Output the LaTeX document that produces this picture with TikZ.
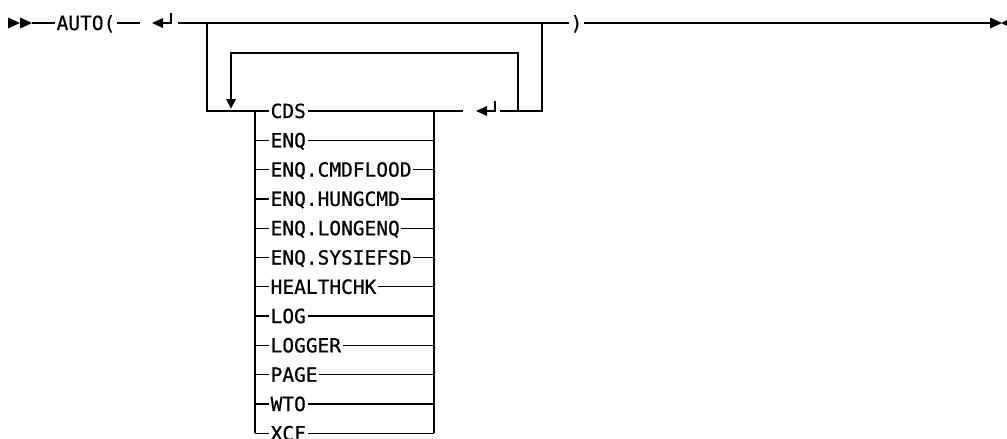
\documentclass[tikz,border=0pt]{standalone}
\usepackage{fontspec}
\newfontfamily\dfont[FakeStretch=1.0,FakeBold=0.6]{DejaVu Sans Mono}
\begin{document}
\begin{tikzpicture}[x=1pt,y=-1pt,line width=1.3pt,
  lbl/.style={font=\dfont\fontsize{19.5}{19.5}\selectfont,inner xsep=1pt,inner ysep=0pt,
              text height=14pt,text depth=0pt,anchor=west},
  retsym/.pic={\fill (0,0) -- (11,-5) -- (11,5) -- cycle;
               \draw (10,0) -- (19,0) -- (19,-10);}]
\useasboundingbox (0,0) rectangle (1007,439);
% start symbol
\fill (8,17.5) -- (20,23) -- (8,28.5) -- cycle;
\fill (20,17.5) -- (32,23) -- (20,28.5) -- cycle;
\coordinate (s0) at (32,23);
\node[lbl] (auto) at (55,23) {AUTO(};
\draw (s0) -- (auto.west);
\coordinate (a1) at (140,23);
\draw (auto.east) -- (a1);
\pic at (152,23) {retsym};
% main line
\coordinate (m1) at (178,23);
\coordinate (m2) at (207,23);
\coordinate (m3) at (542,23);
\node[lbl] (rp) at (569,23) {)};
\draw (m1) -- (rp.west);
\coordinate (e0) at (992,23);
\draw (rp.east) -- (e0);
\fill (990,17.5) -- (1002,23) -- (990,28.5) -- cycle;
\fill (1012,17.5) -- (1001,23) -- (1012,28.5) -- cycle;
% choice stack
\foreach \t [count=\i from 0] in {CDS,ENQ,ENQ.CMDFLOOD,ENQ.HUNGCMD,ENQ.LONGENQ,ENQ.SYSIEFSD,HEALTHCHK,LOG,LOGGER,PAGE,WTO,XCF}{
  \node[lbl] (it\i) at (269,{111+29.3*\i}) {\t};
  \coordinate (L\i) at (255,{111+29.3*\i});
  \coordinate (R\i) at (434,{111+29.3*\i});
  \draw (L\i) -- (it\i.west);
  \ifnum\i>0 \draw (it\i.east) -- (R\i); \fi
}
\draw (L0) -- (L11);
\draw (R0) -- (R11);
% outer loop
\draw (m2) |- (it0.west);
\coordinate (c0) at (463,111);
\draw (it0.east) -- (c0);
\pic at (476,111) {retsym};
\coordinate (c1) at (500,111);
\draw (c1) -| (m3);
% inner repeat loop
\coordinate (k0) at (518,111);
\coordinate (k1) at (231,99);
\draw (k0) -- (518,53) -| (k1);
\fill (226,99) -- (236,99) -- (231,108.5) -- cycle;
\end{tikzpicture}
\end{document}
